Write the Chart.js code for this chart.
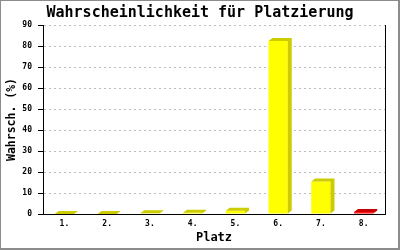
<!DOCTYPE html>
<html>
<head>
<meta charset="utf-8">
<title>Wahrscheinlichkeit für Platzierung</title>
<script src="https://cdn.jsdelivr.net/npm/chart.js@4/dist/chart.umd.min.js"></script>
<style>
  html, body { margin: 0; padding: 0; background: #fff; }
  #chart { display: block; }
</style>
</head>
<body>
<canvas id="chart" width="400" height="250"></canvas>
<script>
// data
const places = ['1.', '2.', '3.', '4.', '5.', '6.', '7.', '8.'];
const chances = [0, 0, 0.3, 0.6, 1.5, 82.4, 15.5, 0.9];
const barColors = ['#ffff00', '#ffff00', '#ffff00', '#ffff00', '#ffff00', '#ffff00', '#ffff00', '#ff0000'];
const sideColors = ['#cccc00', '#cccc00', '#cccc00', '#cccc00', '#cccc00', '#cccc00', '#cccc00', '#cc0000'];

const mono = "'DejaVu Sans Mono', 'Liberation Mono', monospace";

// fake 3d: top + side face on every bar
const bar3d = {
  id: 'bar3d',
  afterDatasetsDraw(chart) {
    const ctx = chart.ctx;
    const meta = chart.getDatasetMeta(0);
    const dx = 4, dy = 3;
    meta.data.forEach((bar, i) => {
      const { x, y, base, width } = bar.getProps(['x', 'y', 'base', 'width'], true);
      const l = x - width / 2, r = x + width / 2;
      ctx.save();
      ctx.fillStyle = sideColors[i];
      ctx.beginPath();
      ctx.moveTo(l, y);
      ctx.lineTo(l + dx, y - dy);
      ctx.lineTo(r + dx, y - dy);
      ctx.lineTo(r + dx, base - dy);
      ctx.lineTo(r, base);
      ctx.lineTo(r, y);
      ctx.closePath();
      ctx.fill();
      ctx.restore();
    });
  }
};

// gray frame round the picture
const frame = {
  id: 'frame',
  afterDraw(chart) {
    const ctx = chart.ctx;
    ctx.save();
    ctx.fillStyle = '#8c8c8c';
    ctx.fillRect(0, 0, chart.width, 1);
    ctx.fillRect(0, 0, 1, chart.height);
    ctx.fillRect(chart.width - 2, 0, 2, chart.height);
    ctx.fillRect(0, chart.height - 2, chart.width, 2);
    ctx.restore();
  }
};

new Chart(document.getElementById('chart'), {
  type: 'bar',
  data: {
    labels: places,
    datasets: [{
      data: chances,
      backgroundColor: barColors,
      borderWidth: 0,
      categoryPercentage: 1,
      barPercentage: 0.45
    }]
  },
  options: {
    responsive: false,
    animation: false,
    layout: { padding: 0 },
    plugins: {
      legend: { display: false },
      tooltip: { enabled: false },
      title: {
        display: true,
        text: 'Wahrscheinlichkeit für Platzierung',
        color: '#000',
        font: { family: mono, size: 15, weight: 'bold', lineHeight: 1.2 },
        padding: { top: 4, bottom: 3 }
      }
    },
    scales: {
      x: {
        grid: { display: false, drawTicks: false },
        border: { display: true, color: '#000', width: 1 },
        ticks: { color: '#000', padding: 5, font: { family: mono, size: 8, weight: 'bold' } },
        title: {
          display: true,
          text: 'Platz',
          color: '#000',
          font: { family: mono, size: 12, weight: 'bold', lineHeight: 1.2 },
          padding: 5
        },
        afterFit(scale) { scale.height = 36; }
      },
      y: {
        min: 0,
        max: 90,
        ticks: { stepSize: 10, color: '#000', padding: 6, font: { family: mono, size: 8, weight: 'bold' } },
        grid: {
          color: '#bdbdbd',
          tickColor: '#000',
          tickBorderDash: [],
          tickLength: 5,
          drawTicks: true
        },
        border: { display: true, color: '#000', width: 1, dash: [2, 3] },
        title: {
          display: true,
          text: 'Wahrsch. (%)',
          color: '#000',
          font: { family: mono, size: 11.5, weight: 'bold', lineHeight: 1.2 },
          padding: 5
        },
        afterFit(scale) { scale.width = 43; }
      },
      y2: {
        position: 'right',
        min: 0,
        max: 90,
        ticks: { display: false },
        grid: { display: false, drawTicks: false },
        border: { display: true, color: '#000', width: 1 },
        afterFit(scale) { scale.width = 15; }
      }
    }
  },
  plugins: [bar3d, frame]
});
</script>
</body>
</html>
